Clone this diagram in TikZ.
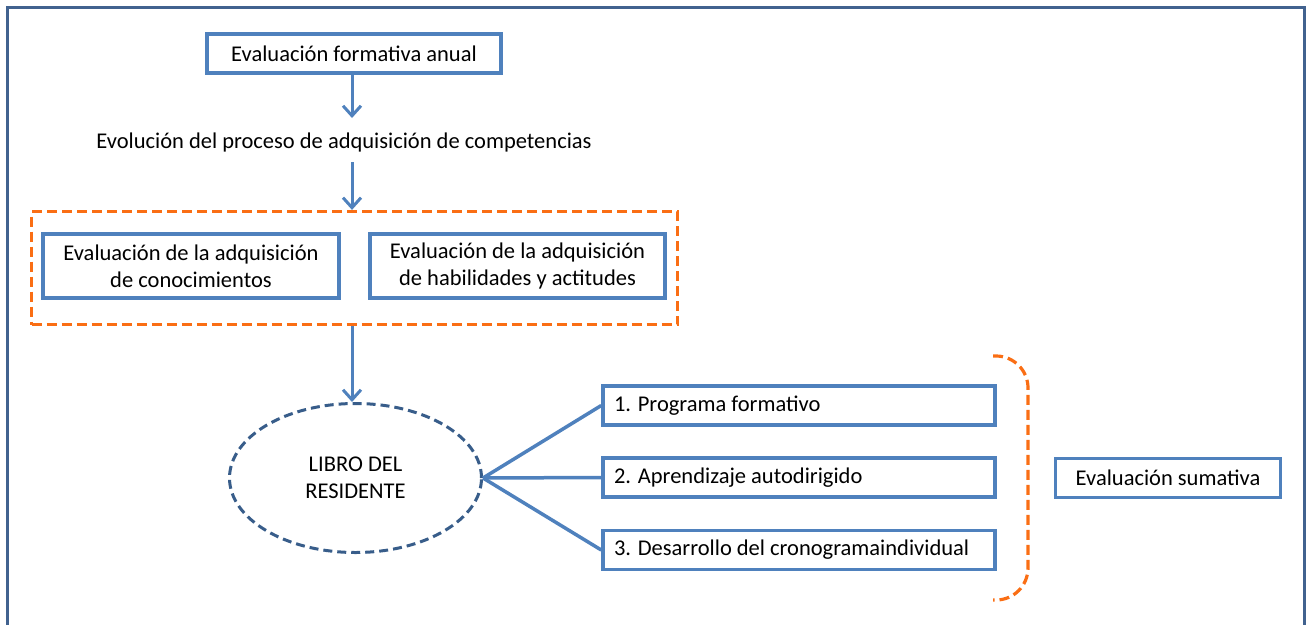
\documentclass[tikz,border=0pt]{standalone}
\usepackage{xcolor}
\usepackage{fontspec}
\setmainfont{Carlito}
\usetikzlibrary{arrows.meta,shapes.geometric}

\definecolor{boxblue}{RGB}{79,129,189}
\definecolor{darkblue}{RGB}{56,93,138}
\definecolor{frameblue}{RGB}{65,98,143}
\definecolor{brorange}{RGB}{250,110,20}

\begin{document}
\begin{tikzpicture}[x=1pt,y=-1pt,
    every node/.style={font=\fontsize{22.5}{27}\selectfont,align=center,inner sep=0pt},
    bluebox/.style={draw=boxblue,line width=3.5pt,minimum height=39pt},
    listbox/.style={bluebox,minimum width=392pt,text width=370pt,align=flush left},
    flow/.style={draw=boxblue,line width=3pt,-{Straight Barb[length=10pt,width=18pt,line width=3pt]}},
    link/.style={draw=boxblue,line width=3.5pt},
    orangedash/.style={draw=brorange,line width=3.2pt,dash pattern=on 10pt off 5pt}]
  \useasboundingbox (0,0) rectangle (1309,624);
  \clip (0,0) rectangle (1309,624);
  % outer frame
  \draw[frameblue,line width=3pt] (7,640) -- (7,7) -- (1304,7) -- (1304,640);

  \node[bluebox,minimum width=294pt] (anual) at (354,53.5) {Evaluación formativa anual};
  \node (evol) at (344,142) {Evolución del proceso de adquisición de competencias};
  \node[orangedash,minimum width=646pt,minimum height=113pt] (grupo) at (354.5,268) {};
  \node[bluebox,minimum width=296pt,minimum height=64pt] (conoc) at (191,266) {Evaluación de la adquisición\\de conocimientos};
  \node[bluebox,minimum width=295pt,minimum height=64pt] (habil) at (517.5,266) {Evaluación de la adquisición\\de habilidades y actitudes};
  \node[ellipse,draw=darkblue,line width=3pt,dash pattern=on 9pt off 5pt,minimum width=252pt,minimum height=149pt] (libro) at (355.5,478) {LIBRO DEL\\RESIDENTE};

  \node[listbox] (prog) at (799,405.5) {1. Programa formativo};
  \node[listbox] (apren) at (799,477.5) {2. Aprendizaje autodirigido};
  \node[listbox] (crono) at (799,550) {3. Desarrollo del cronogramaindividual};
  \node[bluebox,minimum width=225pt] (sumat) at (1168,478) {Evaluación sumativa};

  % flechas
  \draw[flow] (anual.south -| 352,0) -- (352,118);
  \draw[flow] (352,162) -- (grupo.north -| 352,0);
  \draw[flow] (grupo.south -| 352,0) -- (libro.north -| 352,0);

  % ramas
  \draw[link] (libro.east) -- (prog.west);
  \draw[link] (libro.east) -- (apren.west);
  \draw[link] (libro.east) -- (crono.west);

  % corchete
  \draw[orangedash,rounded corners=32pt] (993,356) -| (1028,600) -- (993,600);
\end{tikzpicture}
\end{document}
